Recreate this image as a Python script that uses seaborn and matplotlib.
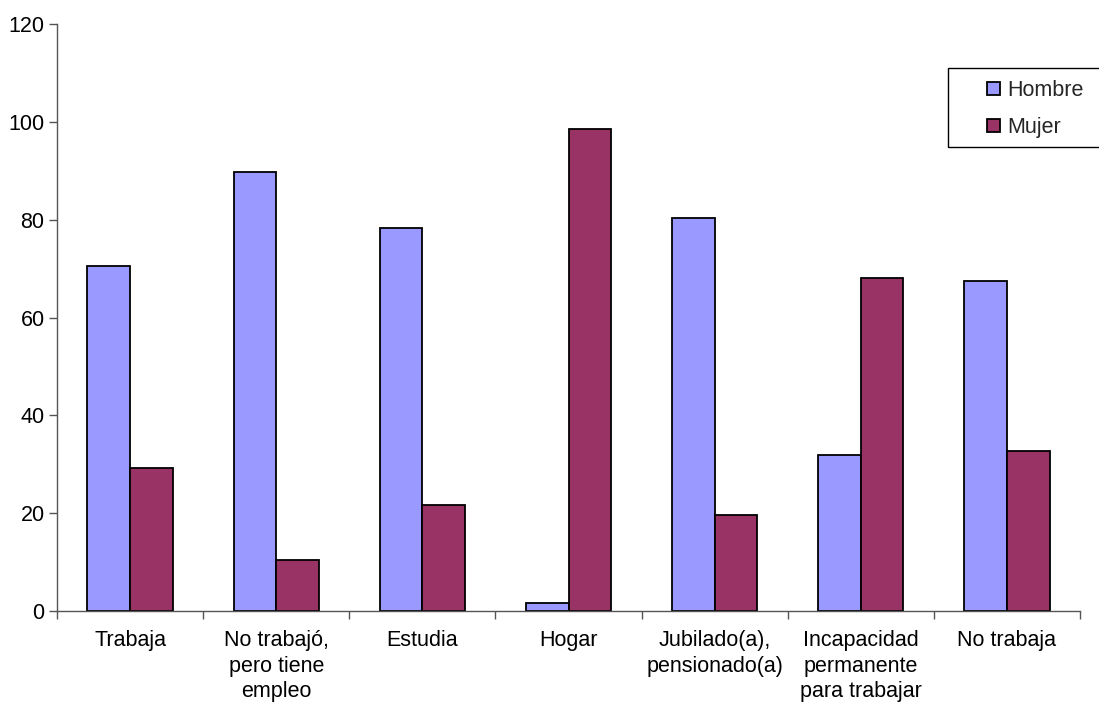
import pandas as pd
import matplotlib
matplotlib.use("Agg")
import matplotlib.pyplot as plt
import seaborn as sns
from matplotlib.patches import Rectangle, Patch

categorias = ["Trabaja", "No trabajó,\npero tiene\nempleo", "Estudia", "Hogar",
              "Jubilado(a),\npensionado(a)", "Incapacidad\npermanente\npara trabajar",
              "No trabaja"]
hombre = [70.6, 89.7, 78.3, 1.5, 80.4, 31.9, 67.5]
mujer = [29.3, 10.3, 21.7, 98.5, 19.6, 68.1, 32.7]
series = ["Hombre", "Mujer"]
colores = ["#9999FF", "#993366"]

# tabla larga para seaborn
filas = []
for i, c in enumerate(categorias):
    filas.append({"cat": c, "sexo": series[0], "valor": hombre[i]})
    filas.append({"cat": c, "sexo": series[1], "valor": mujer[i]})
df = pd.DataFrame(filas)

sns.set_style("white")
plt.rcParams['font.family'] = ['Liberation Sans', 'DejaVu Sans']
fs = 15.5

fig = plt.figure(figsize=(10.99, 7.04), dpi=100)
ax = fig.add_axes([57 / 1099, 1 - 610.7 / 704, (1080 - 57) / 1099, (610.7 - 24.3) / 704])

sns.barplot(data=df, x="cat", y="valor", hue="sexo", order=categorias,
            hue_order=series, palette=colores, saturation=1, width=0.584, gap=0,
            edgecolor="black", linewidth=1.3, ax=ax, legend=False)

ax.set_xlim(-0.5, len(categorias) - 0.5)
ax.set_ylim(0, 120)
ax.set_yticks(range(0, 121, 20))
ax.set_xlabel("")
ax.set_ylabel("")

for s in ["top", "right"]:
    ax.spines[s].set_visible(False)
for s in ["left", "bottom"]:
    ax.spines[s].set_color("#555555")
    ax.spines[s].set_linewidth(1.0)

ax.tick_params(axis="y", direction="out", length=6, width=1, color="#555555",
               labelsize=fs, labelcolor="black", pad=3, left=True)
ax.set_xticks(range(len(categorias)))
ax.set_xticklabels(categorias, fontsize=fs, linespacing=1.28, va="top", color="black")
ax.tick_params(axis="x", which="major", length=0, pad=14)
ax.set_xticks([i - 0.5 for i in range(len(categorias) + 1)], minor=True)
ax.tick_params(axis="x", which="minor", direction="out", length=6, width=1,
               color="#555555", bottom=True)

# leyenda con marco propio
marco = Rectangle((948 / 1099, 1 - 147 / 704), 170 / 1099, 79 / 704,
                  transform=fig.transFigure, fill=False, edgecolor="black",
                  linewidth=1.0, clip_on=False)
fig.patches.append(marco)
handles = [Patch(facecolor=colores[i], edgecolor="black", linewidth=1.3) for i in range(2)]
fig.legend(handles, series, loc="upper left", bbox_to_anchor=(987 / 1099, 1 - 80 / 704),
           frameon=False, fontsize=fs, handlelength=0.6, handleheight=0.6,
           handletextpad=0.35, labelspacing=0.75, borderpad=0, borderaxespad=0)

fig.savefig("out.png", dpi=100)
